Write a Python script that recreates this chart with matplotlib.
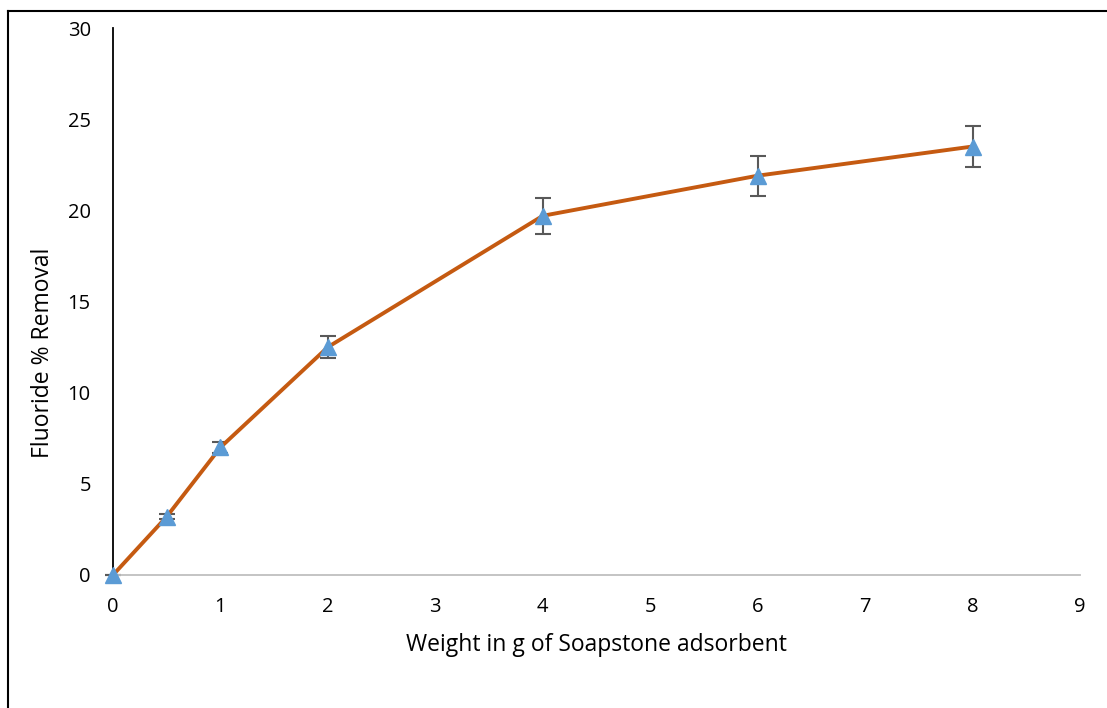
import matplotlib.pyplot as plt
from matplotlib.lines import Line2D

# Data
weight = [0, 0.5, 1, 2, 4, 6, 8]
removal = [0, 3.2, 7.0, 12.5, 19.7, 21.9, 23.5]
err = [0.0, 0.15, 0.3, 0.6, 1.0, 1.1, 1.15]

plt.rcParams['font.family'] = ['Open Sans', 'DejaVu Sans']

fig = plt.figure(figsize=(11.07, 7.08), dpi=100)
ax = fig.add_axes([113 / 1107, 133 / 708, 967 / 1107, 547 / 708])

ax.errorbar(weight, removal, yerr=err, fmt='none', ecolor='#595959',
            elinewidth=1.5, capsize=6, capthick=1.5, zorder=2)
ax.plot(weight, removal, color='#c55a11', linewidth=2.8, zorder=3)
ax.plot(weight, removal, linestyle='none', marker='^', markersize=11,
        color='#5b9bd5', zorder=4)

ax.set_xlim(0, 9)
ax.set_ylim(0, 30)
ax.set_xticks(range(0, 10))
ax.set_yticks(range(0, 31, 5))
ax.tick_params(length=0, labelsize=14.5)
ax.tick_params(axis='x', pad=16)
ax.tick_params(axis='y', pad=16)
ax.set_xlabel('Weight in g of Soapstone adsorbent', fontsize=16.5, va='center')
ax.set_ylabel('Fluoride % Removal', fontsize=16.5, va='center')
ax.xaxis.set_label_coords(0.5, -0.128)
ax.yaxis.set_label_coords(-0.0724, 0.406)

ax.spines['top'].set_visible(False)
ax.spines['right'].set_visible(False)
ax.spines['left'].set_color('black')
ax.spines['left'].set_linewidth(1.3)
ax.spines['bottom'].set_color('#bfbfbf')
ax.spines['bottom'].set_linewidth(1.3)
for art in ax.lines:
    art.set_clip_on(False)
for coll in ax.collections:
    coll.set_clip_on(False)

# outer frame (top and left edges visible)
fig.add_artist(Line2D([8 / 1107, 1], [1 - 11 / 708, 1 - 11 / 708],
                      color='black', linewidth=1.5, transform=fig.transFigure))
fig.add_artist(Line2D([8 / 1107, 8 / 1107], [0, 1 - 11 / 708],
                      color='black', linewidth=1.5, transform=fig.transFigure))

fig.savefig('out.png', dpi=100)
